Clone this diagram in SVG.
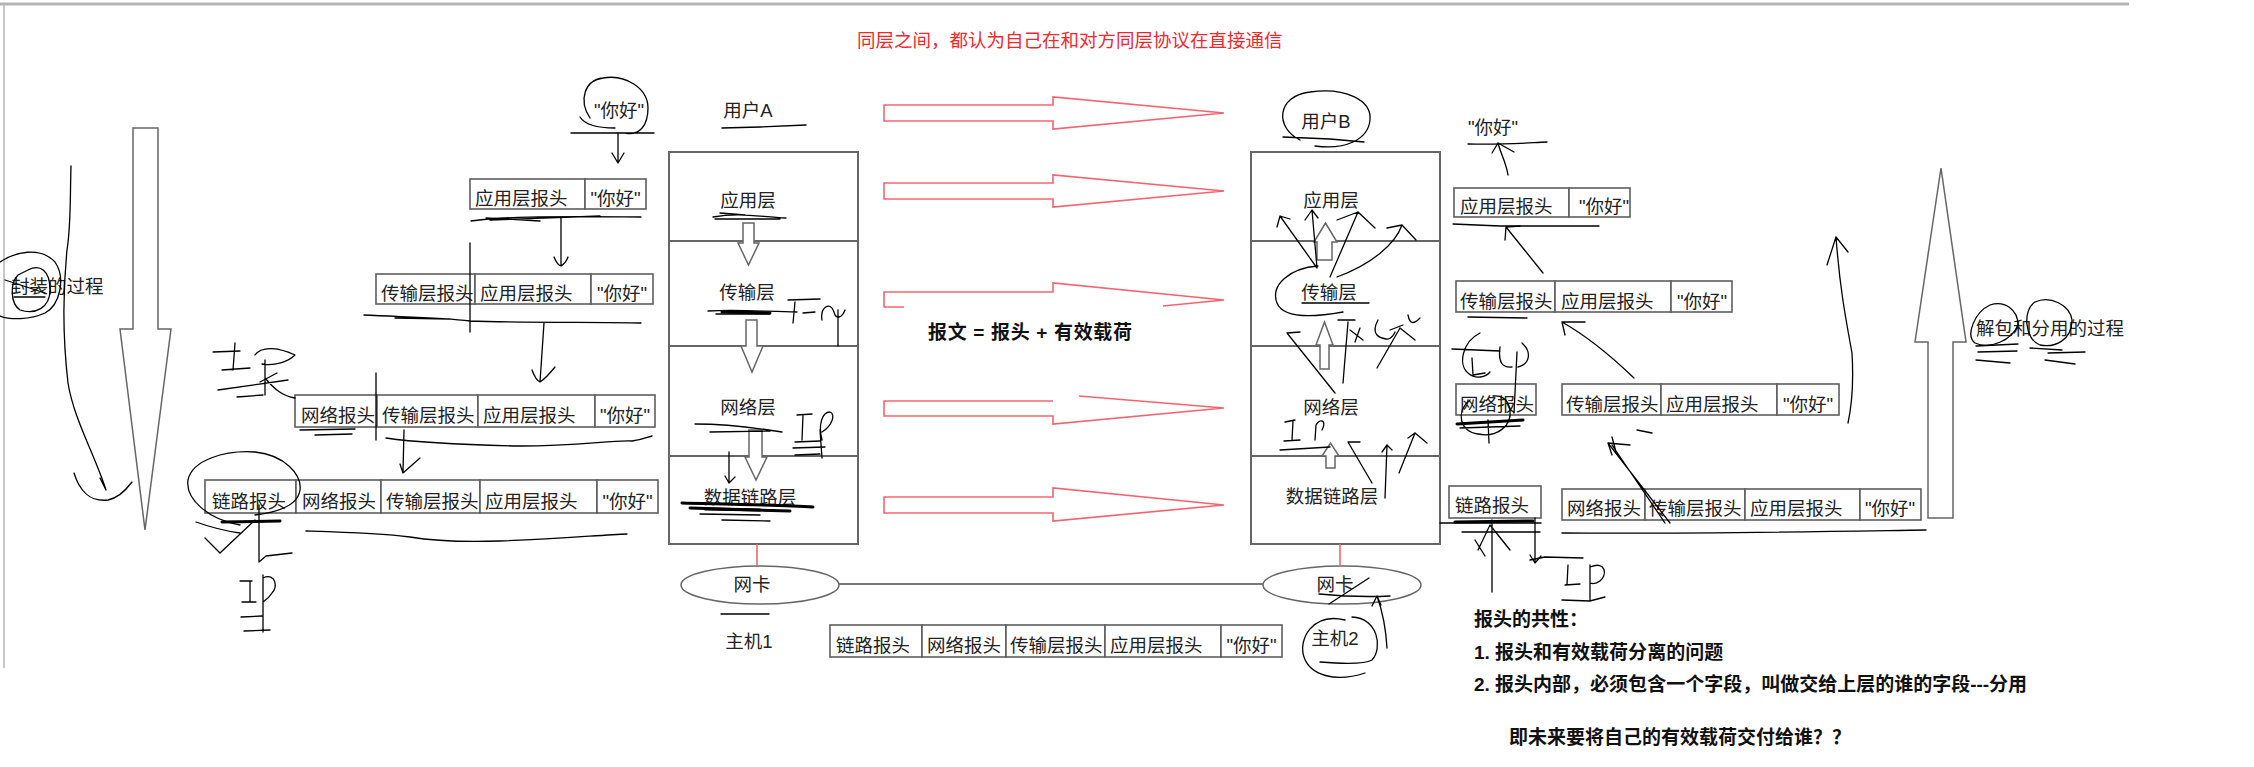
<svg xmlns="http://www.w3.org/2000/svg" width="2254" height="767" viewBox="0 0 2254 767">
<style>
.t{font-family:"Liberation Sans","Noto Sans CJK SC",sans-serif;font-size:18.5px;fill:#222}
.m{text-anchor:middle}
.red{fill:#f0282e}
.b{font-family:"Liberation Sans","Noto Sans CJK SC",sans-serif;font-size:19px;font-weight:bold;fill:#111}
.cell{fill:#fff;stroke:#5e5e5e;stroke-width:1.6}
.stack{fill:#fff;stroke:#666;stroke-width:2}
.div{stroke:#666;stroke-width:2}
.hol{fill:#fff;stroke:#666;stroke-width:1.5}
.ra{fill:none;stroke:#f26570;stroke-width:1.6}
.rl{stroke:#f26570;stroke-width:1.6}
.ink{fill:none;stroke:#000;stroke-width:1.3;stroke-linecap:round;stroke-linejoin:round}
.thick{fill:none;stroke:#000;stroke-width:3;stroke-linecap:round}
.frame{stroke:#b4b4b4;fill:none}
</style>
<rect width="2254" height="767" fill="#fff"/>
<g id="frame">
<line class="frame" x1="0" y1="4" x2="2129" y2="4" stroke-width="3"/>
<line class="frame" x1="4" y1="4" x2="4" y2="668" stroke-width="1.5"/>
</g>
<g id="title"><text class="t red" x="857" y="47">同层之间，都认为自己在和对方同层协议在直接通信</text></g>

<g id="encap-arrow">
<path class="hol" d="M133,128 H158 V329 H171 L145,530 L120,329 H133 Z"/>
<text class="t" x="11" y="293">封装的过程</text>
<path class="ink" d="M0,262 C15,252 40,246 55,262 C66,278 60,305 45,313 C30,320 10,320 0,316"/>
<path class="ink" d="M28,270 C40,264 50,270 50,290 C50,308 35,315 20,310 C10,303 10,283 18,275 Z"/>
<path class="ink" d="M5,280 L45,293 M14,297 L45,297"/>
<path class="ink" d="M71,166 C70,200 71,225 67,250 C63,290 63,340 68,383 C74,420 95,455 106,490 M100,478 L106,490 M74,473 C80,492 90,502 108,500 C118,498 126,490 132,482"/>
</g>

<g id="userA">
<text class="t m" x="748" y="117">用户A</text>
<path class="ink" d="M722,128 L760,127 L806,125"/>
</g>
<g id="stackA">
<rect class="stack" x="669" y="152" width="189" height="392"/>
<line class="div" x1="669" y1="241" x2="858" y2="241"/>
<line class="div" x1="669" y1="346" x2="858" y2="346"/>
<line class="div" x1="669" y1="456" x2="858" y2="456"/>
<text class="t m" x="748" y="207">应用层</text>
<text class="t m" x="747" y="299">传输层</text>
<text class="t m" x="748" y="414">网络层</text>
<text class="t m" x="750" y="504">数据链路层</text>
<path class="hol" d="M743,223 H754 V243 H759 L748.5,265 L738,243 H743 Z"/>
<path class="hol" d="M746,320 H757 V346 H763 L752,372 L741,346 H746 Z"/>
<path class="hol" d="M749,430 H762 V457 H767 L756,480 L745,457 H749 Z"/>
</g>
<g id="userB">
<text class="t m" x="1326" y="128">用户B</text>
<path class="ink" d="M1300,140 C1275,128 1276,96 1310,92 C1345,87 1372,100 1370,120 C1368,140 1345,150 1315,146 M1283,137 L1330,139 L1364,142"/>
</g>
<g id="stackB">
<rect class="stack" x="1251" y="152" width="189" height="392"/>
<line class="div" x1="1251" y1="241" x2="1440" y2="241"/>
<line class="div" x1="1251" y1="346" x2="1440" y2="346"/>
<line class="div" x1="1251" y1="456" x2="1440" y2="456"/>
<text class="t m" x="1331" y="207">应用层</text>
<text class="t m" x="1329" y="299">传输层</text>
<text class="t m" x="1331" y="414">网络层</text>
<text class="t m" x="1332" y="503">数据链路层</text>
<path class="hol" d="M1317,260 V242 H1314 L1325.5,223 L1337,242 H1332 V260 Z"/>
<path class="hol" d="M1320,369 V345 H1316 L1324.5,322 L1333,345 H1329 V369 Z"/>
<path class="hol" d="M1326,468 V456 H1322 L1330.5,443 L1339,456 H1335 V468 Z"/>
</g>

<g id="nicA">
<ellipse class="hol" cx="760" cy="585" rx="79" ry="19"/>
<text class="t m" x="752" y="591">网卡</text>
<path class="ink" d="M721,614 L769,614"/>
<text class="t m" x="749" y="648">主机1</text>
</g>
<g id="nicB">
<ellipse class="hol" cx="1342" cy="585" rx="79" ry="19"/>
<text class="t m" x="1335" y="591">网卡</text>
<text class="t m" x="1335" y="645">主机2</text>
<path class="ink" d="M1345,620 C1312,612 1298,640 1304,657 C1310,675 1335,683 1365,673 M1352,617 C1378,618 1383,648 1372,660 C1365,664 1345,664 1320,662"/>
<path class="ink" d="M1329,604 L1369,578 M1319,594 C1340,596 1370,597 1390,596 M1387,648 C1386,630 1382,610 1377,596 M1377,596 L1372,606 M1377,596 L1381,605"/>
</g>

<g id="payload">
<text class="b" x="928" y="339" textLength="204" lengthAdjust="spacing">报文 = 报头 + 有效载荷</text>
</g>

<g id="enc-1">
<text class="t" x="594" y="117">"你好"</text>
<path class="ink" d="M590,118 C578,100 585,80 603,78 C625,74 648,88 648,108 C648,125 640,136 625,133 M580,117 C585,125 598,128 615,128 M571,133 L654,133"/>
<rect class="cell" x="470" y="179" width="115" height="30"/><text class="t" x="475" y="205">应用层报头</text>
<rect class="cell" x="585" y="179" width="61" height="30"/><text class="t m" x="615.5" y="205">"你好"</text>
<path class="ink" d="M471,221 C500,217 540,216 641,217 M490,220 L600,216 M486,218 L540,221"/>
</g>
<g id="enc-2">
<rect class="cell" x="376" y="274" width="99" height="30"/><text class="t" x="381" y="300">传输层报头</text>
<rect class="cell" x="475" y="274" width="116" height="30"/><text class="t" x="480" y="300">应用层报头</text>
<rect class="cell" x="591" y="274" width="62" height="30"/><text class="t m" x="622" y="300">"你好"</text>
<path class="ink" d="M470,243 L470,332 M364,315 C400,317 440,317 470,321 C520,323 600,322 641,323 M395,318 L450,319"/>
</g>
<g id="enc-3">
<rect class="cell" x="295" y="395" width="82" height="32"/><text class="t" x="301" y="422">网络报头</text>
<rect class="cell" x="377" y="395" width="101" height="32"/><text class="t" x="382" y="422">传输层报头</text>
<rect class="cell" x="478" y="395" width="117" height="32"/><text class="t" x="483" y="422">应用层报头</text>
<rect class="cell" x="595" y="395" width="60" height="32"/><text class="t m" x="625" y="422">"你好"</text>
<path class="ink" d="M300,430 L355,429 M315,435 L352,434 M376,373 L376,440 M386,438 C420,443 470,445 520,446 C580,446 610,440 632,441 C642,440 648,437 652,436"/>
<path class="ink" d="M213,352 L240,351 M235,343 L233,370 M222,370 L250,368 M255,355 C262,345 280,348 295,355 C288,362 275,366 262,364 M218,390 L288,380 M237,397 L263,395 M265,360 L265,395 M260,382 L277,373 M265,378 C275,390 283,396 295,398"/>
</g>
<g id="enc-4">
<rect class="cell" x="205" y="480" width="91" height="33"/><text class="t" x="212" y="508">链路报头</text>
<rect class="cell" x="296" y="480" width="85" height="33"/><text class="t" x="302" y="508">网络报头</text>
<rect class="cell" x="381" y="480" width="99" height="33"/><text class="t" x="386" y="508">传输层报头</text>
<rect class="cell" x="480" y="480" width="117" height="33"/><text class="t" x="485" y="508">应用层报头</text>
<rect class="cell" x="597" y="480" width="61" height="33"/><text class="t m" x="627.5" y="508">"你好"</text>
<path class="ink" d="M240,525 C210,520 185,500 188,480 C192,460 225,450 255,452 C285,455 302,475 300,490 C298,505 280,512 255,515 M196,522 C210,527 225,531 240,533"/>
<path class="ink" d="M306,531 C340,532 380,533 410,537 C440,542 470,542 500,541 C560,539 600,535 627,534"/>
<path class="thick" d="M222,522 L280,521"/>
<path class="ink" d="M259,505 L259,562 M205,538 L220,553 L255,520 M259,562 L266,556 L292,553"/>
<path class="ink" d="M240,581 L252,581 M250,581 L250,602 M242,602 L256,602 M263,575 L263,632 M263,578 C276,572 278,588 272,593 C269,598 266,600 263,602 M241,617 L262,616 M244,631 L270,630"/>
</g>

<g id="enc-bottom">
<rect class="cell" x="830" y="625" width="92" height="32"/><text class="t" x="836" y="652">链路报头</text>
<rect class="cell" x="922" y="625" width="84" height="32"/><text class="t" x="927" y="652">网络报头</text>
<rect class="cell" x="1006" y="625" width="99" height="32"/><text class="t" x="1010" y="652">传输层报头</text>
<rect class="cell" x="1105" y="625" width="116" height="32"/><text class="t" x="1110" y="652">应用层报头</text>
<rect class="cell" x="1221" y="625" width="61" height="32"/><text class="t m" x="1251.5" y="652">"你好"</text>
</g>

<g id="dec-0">
<text class="t" x="1468" y="134">"你好"</text>
<path class="ink" d="M1468,144 C1500,145 1525,143 1547,142"/>
</g>
<g id="dec-1">
<rect class="cell" x="1454" y="188" width="115" height="29"/><text class="t" x="1460" y="213">应用层报头</text>
<rect class="cell" x="1569" y="188" width="61" height="29"/><text class="t m" x="1604" y="213">"你好"</text>
<path class="ink" d="M1453,224 L1500,226 L1599,226"/>
</g>
<g id="dec-2">
<rect class="cell" x="1456" y="281" width="99" height="31"/><text class="t" x="1460" y="308">传输层报头</text>
<rect class="cell" x="1555" y="281" width="116" height="31"/><text class="t" x="1561" y="308">应用层报头</text>
<rect class="cell" x="1671" y="281" width="61" height="31"/><text class="t m" x="1702" y="308">"你好"</text>
<path class="ink" d="M1468,317 L1527,318"/>
</g>
<g id="dec-3">
<rect class="cell" x="1456" y="384" width="80" height="31"/><text class="t" x="1460" y="411">网络报头</text>
<rect class="cell" x="1562" y="384" width="99" height="31"/><text class="t" x="1566" y="411">传输层报头</text>
<rect class="cell" x="1661" y="384" width="116" height="31"/><text class="t" x="1666" y="411">应用层报头</text>
<rect class="cell" x="1777" y="384" width="62" height="31"/><text class="t m" x="1808" y="411">"你好"</text>
<path class="ink" d="M1452,349 L1500,351 M1480,333 C1462,342 1458,365 1468,373 C1476,380 1486,377 1490,372 M1472,358 L1473,375 L1485,373 M1500,347 C1498,362 1502,368 1512,367 M1522,343 C1532,352 1530,364 1518,367 M1517,352 L1514,413"/>
<path class="ink" d="M1470,400 C1455,412 1460,432 1478,434 C1498,438 1512,425 1510,410 C1508,398 1500,395 1493,396 M1460,428 L1520,426 M1488,420 L1489,443"/>
<path class="thick" d="M1457,424 L1523,420" stroke-width="2"/>
</g>
<g id="dec-4">
<rect class="cell" x="1449" y="486" width="92" height="32"/><text class="t" x="1455" y="512">链路报头</text>
<rect class="cell" x="1562" y="489" width="83" height="31"/><text class="t" x="1567" y="515">网络报头</text>
<rect class="cell" x="1645" y="489" width="100" height="31"/><text class="t" x="1649" y="515">传输层报头</text>
<rect class="cell" x="1745" y="489" width="115" height="31"/><text class="t" x="1750" y="515">应用层报头</text>
<rect class="cell" x="1860" y="489" width="61" height="31"/><text class="t m" x="1890" y="515">"你好"</text>
<path class="ink" d="M1440,523 L1541,523 M1462,532 L1540,532 M1562,533 C1700,534 1800,532 1926,530"/>
<path class="thick" d="M1455,522 L1533,521"/>
<path class="ink" d="M1492,520 L1492,592 M1478,550 L1490,525 L1510,550 M1475,540 L1485,556 M1535,518 L1535,562 M1530,555 L1535,563 L1541,556"/>
<path class="ink" d="M1530,560 L1545,557 L1583,558 M1568,565 L1567,585 M1565,585 L1580,584 M1590,565 L1590,600 M1590,567 C1607,560 1607,576 1600,581 C1596,584 1593,584 1590,583 M1562,600 L1590,601 L1605,597"/>
</g>
<g id="decap-arrow">
<path class="hol" d="M1928,518 V342 H1915 L1941,168 L1966,342 H1953 V518 Z"/>
<text class="t" x="1976" y="335">解包和分用的过程</text>
<path class="ink" d="M1990,305 C1975,312 1965,335 1975,343 C1990,350 2012,340 2018,325 C2018,310 2005,300 1990,305 M2035,302 C2050,295 2070,305 2072,320 C2072,340 2055,348 2040,345 C2025,340 2022,310 2035,302"/>
<path class="ink" d="M1976,346 L2018,344 M1978,352 L2017,351 M1976,360 L2010,363 M2030,348 L2062,350 M2048,353 L2085,352 M2045,360 L2075,364"/>
</g>
<g id="notes">
<text class="b" x="1474" y="626">报头的共性：</text>
<text class="b" x="1474" y="659">1. 报头和有效载荷分离的问题</text>
<text class="b" x="1474" y="691">2. 报头内部，必须包含一个字段，叫做交给上层的谁的字段---分用</text>
<text class="b" x="1509" y="744">即未来要将自己的有效载荷交付给谁？？</text>
</g>

<g id="connectors">
<path class="ra" d="M884,105 H1053 V97 L1224,113 L1053,129 V121 H884 Z"/>
<path class="ra" d="M884,183 H1053 V175 L1224,191 L1053,207 V199 H884 Z"/>
<path class="ra" d="M904,307 H884 V292 H1053 V283 L1224,300 L1163,306"/>
<path class="ra" d="M1053,401 H884 V416 H1053 V424 L1224,408 L1079,396"/>
<path class="ra" d="M884,497 H1053 V488 L1224,505 L1053,521 V513 H884 Z"/>
<line class="rl" x1="757" y1="544" x2="757" y2="566"/>
<line class="rl" x1="1340" y1="544" x2="1340" y2="566"/>
<line x1="839" y1="584" x2="1263" y2="584" stroke="#777" stroke-width="2"/>
<path class="ink" d="M618,133 L618,163 M612,153 L618,163 L624,153"/>
<path class="ink" d="M561,218 L561,265 M554,257 C556,262 558,265 561,266 C564,264 567,260 568,257"/>
<path class="ink" d="M544,323 L540,382 M532,370 C535,378 537,381 540,382 C546,378 551,372 555,367"/>
<path class="ink" d="M404,430 L403,472 M400,464 L403,473 L420,458"/>
<path class="ink" d="M713,217 C740,212 760,217 786,218 M720,213 L745,215 M715,219 L780,219"/>
<path class="ink" d="M708,311 C740,309 770,312 797,312 M716,314 L770,314 M788,300 L820,299 M795,302 L793,323 M803,313 L815,312 M822,320 C820,308 830,300 834,312 C836,320 842,318 845,310 M838,310 L838,346"/>
<path class="thick" d="M722,312 L770,313" stroke-width="2.2"/>
<path class="ink" d="M695,424 C720,424 745,426 782,432 M710,432 L770,431"/>
<path class="ink" d="M797,415 L812,414 M803,415 L802,440 M795,442 L820,441 M822,440 C818,425 822,412 830,412 C836,414 832,426 822,432 M793,448 L825,447 M795,455 L820,454 M820,430 L822,458"/>
<path class="ink" d="M729,452 L729,483 M725,476 L729,483 L735,477"/>
<path class="thick" d="M682,503 C720,504 780,505 813,507 M690,508 L790,511"/>
<path class="ink" d="M700,514 L760,515 M722,520 L770,521"/>
<path class="thick" d="M705,509 L760,510" stroke-width="5"/>
<path class="ink" d="M1302,303 L1369,303 M1318,266 C1290,268 1270,285 1277,303 C1283,318 1310,318 1343,312"/>
<path class="ink" d="M1317,268 L1280,216 M1280,216 L1277,227 M1280,216 L1290,219 M1317,268 L1312,210 M1312,210 L1305,220 M1312,210 L1318,218 M1330,277 L1358,212 M1358,212 L1337,220 M1358,212 L1375,228 M1337,277 C1370,265 1395,245 1402,225 M1402,225 L1387,228 M1402,225 L1416,240"/>
<path class="ink" d="M1335,393 L1287,333 M1287,333 L1300,332 M1343,383 L1348,322 M1338,320 L1355,320 M1350,330 L1363,340 M1355,342 L1360,328 M1378,320 C1370,335 1380,338 1386,339 C1392,340 1395,332 1395,332 M1390,330 L1403,325 M1408,315 C1410,325 1414,324 1420,318 M1400,328 L1415,340 M1377,368 L1400,328"/>
<path class="ink" d="M1285,422 L1295,420 M1293,421 L1292,440 M1284,441 L1300,440 M1315,440 L1316,425 C1320,418 1327,420 1322,430 M1280,450 L1330,447 M1372,483 L1348,442 M1348,442 L1360,442 M1385,498 L1387,445 M1387,445 L1382,452 M1387,445 L1392,450 M1399,473 L1415,433 M1415,433 L1408,438 M1415,433 L1427,443"/>
<path class="ink" d="M1508,175 C1506,162 1500,152 1498,143 M1498,143 L1492,153 M1498,143 L1514,152"/>
<path class="ink" d="M1543,273 L1506,227 M1506,227 L1505,240 M1506,227 L1520,226"/>
<path class="ink" d="M1634,378 C1610,355 1585,335 1562,322 M1562,322 L1585,322 M1562,322 L1565,335"/>
<path class="ink" d="M1670,523 L1608,443 M1665,523 L1612,445 M1608,443 L1612,455 M1608,443 L1630,445 M1612,437 L1616,452 M1637,430 L1652,433"/>
<path class="ink" d="M1848,423 C1853,400 1853,370 1852,353 C1846,320 1840,290 1836,237 M1836,237 L1827,265 M1836,237 L1848,252"/>
</g>
</svg>
